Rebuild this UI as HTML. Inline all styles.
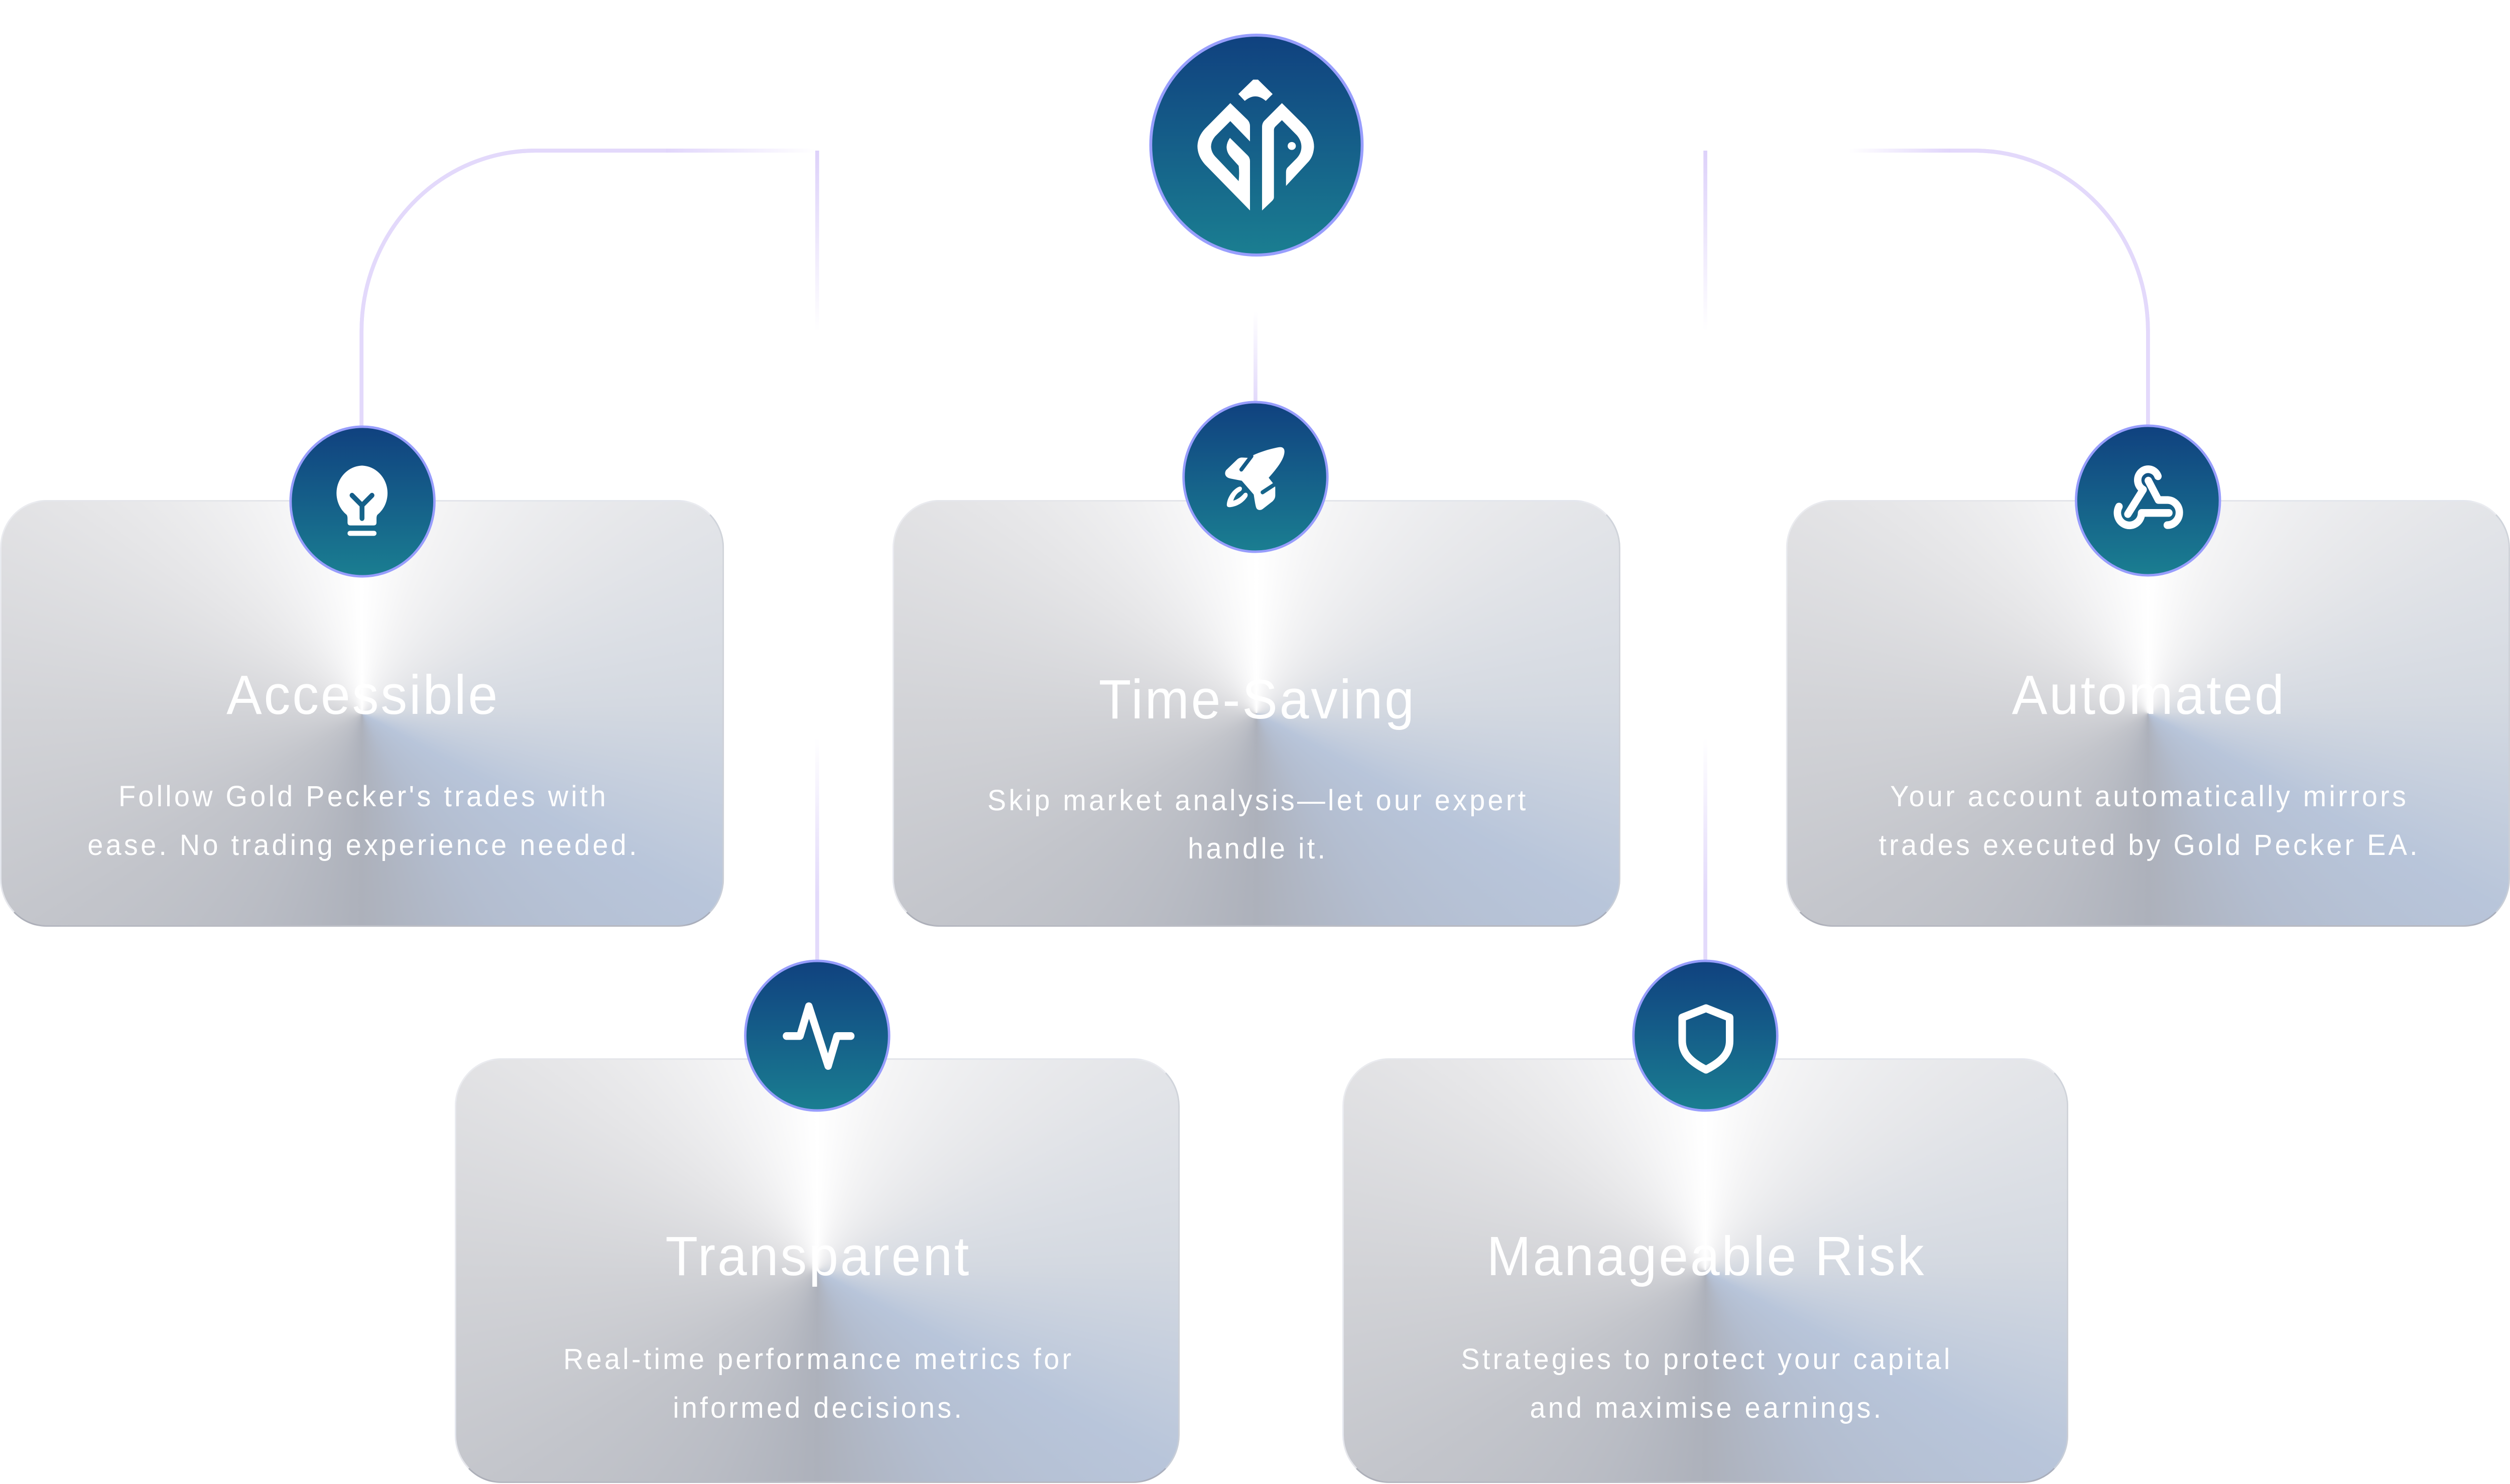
<!DOCTYPE html>
<html><head><meta charset="utf-8">
<style>
html,body{margin:0;padding:0;background:#fff;overflow:hidden;width:100%;height:100%}
svg.root{display:block;width:100vw;height:100vh;position:absolute;left:0;top:0}
.card{width:100%;height:100%;border-radius:96px;box-sizing:border-box;
border:3px solid rgba(236,237,241,0.85);border-bottom-color:rgba(165,168,178,0.75);border-right-color:rgba(205,208,216,0.8);
background:conic-gradient(from 0deg at 50% 50%,#ffffff 0deg,#f4f4f5 22deg,#e6e7ea 55deg,#d4d9e1 88deg,#b8c5da 118deg,#b3bdcf 148deg,#adb1bb 180deg,#b9bcc4 208deg,#c3c5cb 238deg,#d2d3d7 270deg,#e5e5e7 305deg,#f5f5f6 338deg,#ffffff 360deg)}
.t{font-family:"Liberation Sans",Arial,sans-serif;font-size:110px;letter-spacing:4px;fill:#fff}
.b{font-family:"Liberation Sans",Arial,sans-serif;font-size:58px;letter-spacing:5.5px;fill:#fff}
</style></head>
<body>
<svg class="root" viewBox="0 0 5200 2956" preserveAspectRatio="none" xmlns="http://www.w3.org/2000/svg">
<defs>
<linearGradient id="cg" x1="0" y1="0" x2="0" y2="1">
<stop offset="0" stop-color="#10417f"/><stop offset="0.5" stop-color="#155f89"/><stop offset="1" stop-color="#1a7e91"/>
</linearGradient>
<linearGradient id="cardfb" x1="0" y1="0" x2="1" y2="1">
<stop offset="0" stop-color="#f2f2f3"/><stop offset="0.5" stop-color="#d0d3d9"/><stop offset="1" stop-color="#b5c2d6"/>
</linearGradient>
<linearGradient id="gL" gradientUnits="userSpaceOnUse" x1="1380" y1="0" x2="1690" y2="0">
<stop offset="0" stop-color="#e1d6fb" stop-opacity="1"/><stop offset="1" stop-color="#e1d6fb" stop-opacity="0"/>
</linearGradient>
<linearGradient id="gR" gradientUnits="userSpaceOnUse" x1="3830" y1="0" x2="4040" y2="0">
<stop offset="0" stop-color="#e1d6fb" stop-opacity="0"/><stop offset="1" stop-color="#e1d6fb" stop-opacity="1"/>
</linearGradient>
<linearGradient id="gVt" gradientUnits="userSpaceOnUse" x1="0" y1="300" x2="0" y2="660">
<stop offset="0" stop-color="#ddd1fa" stop-opacity="1"/><stop offset="1" stop-color="#ddd1fa" stop-opacity="0"/>
</linearGradient>
<linearGradient id="gVb" gradientUnits="userSpaceOnUse" x1="0" y1="1470" x2="0" y2="1780">
<stop offset="0" stop-color="#e3dafb" stop-opacity="0"/><stop offset="1" stop-color="#e3dafb" stop-opacity="1"/>
</linearGradient>
<linearGradient id="gVc" gradientUnits="userSpaceOnUse" x1="0" y1="620" x2="0" y2="795">
<stop offset="0" stop-color="#e3dafb" stop-opacity="0"/><stop offset="1" stop-color="#e3dafb" stop-opacity="1"/>
</linearGradient>
<mask id="mb" maskUnits="userSpaceOnUse" x="0" y="0" width="900" height="900">
<rect x="0" y="0" width="900" height="900" fill="#fff"/>
<path d="M388,410 L450,470 L512,410 M450,470 L450,548" stroke="#000" stroke-width="30" stroke-linecap="round" stroke-linejoin="round" fill="none"/>
</mask>
<mask id="mr" maskUnits="userSpaceOnUse" x="0" y="0" width="960" height="960">
<rect x="0" y="0" width="960" height="960" fill="#fff"/>
<path d="M458,386 L395,466 M616,546 L527,602" stroke="#000" stroke-width="24" stroke-linecap="round" fill="none"/>
</mask>
</defs>

<!-- connectors -->
<path d="M749,850 V660 A360,360 0 0 1 1109,300 H1690" fill="none" stroke="url(#gL)" stroke-width="8"/>
<path d="M749,850 V660 A360,360 0 0 1 1109,300 H1380" fill="none" stroke="#e3d9fb" stroke-width="8"/>
<path d="M3830,300 H4090 A360,360 0 0 1 4450,660 V848" fill="none" stroke="url(#gR)" stroke-width="8"/>
<path d="M4040,300 H4090 A360,360 0 0 1 4450,660 V848" fill="none" stroke="#e3d9fb" stroke-width="8"/>
<line x1="1693" y1="300" x2="1693" y2="660" stroke="url(#gVt)" stroke-width="8"/>
<line x1="3533" y1="300" x2="3533" y2="660" stroke="url(#gVt)" stroke-width="8"/>
<line x1="1693" y1="1470" x2="1693" y2="1915" stroke="url(#gVb)" stroke-width="8"/>
<line x1="3533" y1="1470" x2="3533" y2="1915" stroke="url(#gVb)" stroke-width="8"/>
<line x1="2601" y1="510" x2="2601" y2="803" stroke="url(#gVc)" stroke-width="8"/>

<!-- cards (fallback rects + conic foreignObject) -->
<rect x="1.5" y="997.5" width="1497" height="847" rx="95" fill="url(#cardfb)"/>
<rect x="1850.5" y="997.5" width="1505" height="847" rx="95" fill="url(#cardfb)"/>
<rect x="3701.5" y="997.5" width="1497" height="847" rx="95" fill="url(#cardfb)"/>
<rect x="943.5" y="2109.5" width="1499" height="843" rx="95" fill="url(#cardfb)"/>
<rect x="2782.5" y="2109.5" width="1501" height="843" rx="95" fill="url(#cardfb)"/>

<foreignObject x="0" y="996" width="1500" height="850"><div xmlns="http://www.w3.org/1999/xhtml" class="card"></div></foreignObject>
<foreignObject x="1849" y="996" width="1508" height="850"><div xmlns="http://www.w3.org/1999/xhtml" class="card"></div></foreignObject>
<foreignObject x="3700" y="996" width="1500" height="850"><div xmlns="http://www.w3.org/1999/xhtml" class="card"></div></foreignObject>
<foreignObject x="942" y="2108" width="1502" height="846"><div xmlns="http://www.w3.org/1999/xhtml" class="card"></div></foreignObject>
<foreignObject x="2781" y="2108" width="1504" height="846"><div xmlns="http://www.w3.org/1999/xhtml" class="card"></div></foreignObject>

<!-- texts -->
<text class="t" x="752" y="1422" text-anchor="middle">Accessible</text>
<text class="b" x="753" y="1606" text-anchor="middle">Follow Gold Pecker's trades with</text>
<text class="b" x="753" y="1703" text-anchor="middle">ease. No trading experience needed.</text>

<text class="t" x="2605" y="1431" text-anchor="middle">Time-Saving</text>
<text class="b" x="2606" y="1614" text-anchor="middle">Skip market analysis—let our expert</text>
<text class="b" x="2606" y="1710" text-anchor="middle">handle it.</text>

<text class="t" x="4452" y="1422" text-anchor="middle">Automated</text>
<text class="b" x="4453" y="1606" text-anchor="middle">Your account automatically mirrors</text>
<text class="b" x="4453" y="1703" text-anchor="middle">trades executed by Gold Pecker EA.</text>

<text class="t" x="1695" y="2540" text-anchor="middle">Transparent</text>
<text class="b" x="1696" y="2727" text-anchor="middle">Real-time performance metrics for</text>
<text class="b" x="1696" y="2824" text-anchor="middle">informed decisions.</text>

<text class="t" x="3535" y="2540" text-anchor="middle">Manageable Risk</text>
<text class="b" x="3536" y="2727" text-anchor="middle">Strategies to protect your capital</text>
<text class="b" x="3536" y="2824" text-anchor="middle">and maximise earnings.</text>

<!-- logo -->
<circle cx="2603" cy="289" r="219" fill="url(#cg)" stroke="#989efd" stroke-width="6"/>
<g transform="translate(2300,0) scale(0.38462,0.35894)" fill="#fff">
<path d="M690,522 L770,442 L796,442 L875,522 L838,560 Q782,510 725,560 Z"/>
<path d="M647,572 L740,665 Q753,680 753,700 L753,785 L647,672 L565,757 Q543,785 543,815 Q545,845 565,868 L692,1005 Q697,960 692,920 L648,870 Q627,845 627,815 Q628,790 645,765 L740,862 Q753,875 753,895 L753,1168 L510,912 Q470,865 470,810 Q472,758 510,715 Z"/>
<path d="M925,572 L1050,700 Q1098,755 1098,815 Q1095,865 1070,895 L947,1032 L947,955 Q947,935 960,925 L1005,878 Q1030,850 1030,815 Q1030,780 1005,750 L925,667 L892,700 Q882,710 882,720 L882,1095 Q882,1105 872,1115 L818,1168 L818,705 Q818,680 835,665 Z"/>
<ellipse cx="978" cy="810" rx="22" ry="22"/>
</g>

<!-- icon circles -->
<circle cx="751" cy="999" r="149" fill="url(#cg)" stroke="#979dfc" stroke-width="5"/>
<circle cx="2601" cy="950" r="149" fill="url(#cg)" stroke="#979dfc" stroke-width="5"/>
<circle cx="4450" cy="997" r="149" fill="url(#cg)" stroke="#979dfc" stroke-width="5"/>
<circle cx="1693" cy="2063" r="149" fill="url(#cg)" stroke="#979dfc" stroke-width="5"/>
<circle cx="3533" cy="2063" r="149" fill="url(#cg)" stroke="#979dfc" stroke-width="5"/>

<!-- lightbulb -->
<g transform="translate(600,850) scale(0.33333)" fill="#fff">
<path mask="url(#mb)" d="M450,232 A165,165 0 0 1 545,527 Q540,535 540,548 L540,572 Q540,590 522,590 L378,590 Q360,590 360,572 L360,548 Q360,535 355,527 A165,165 0 0 1 450,232 Z"/>
<rect x="360" y="622" width="180" height="30" rx="15"/>
</g>

<!-- rocket -->
<g transform="translate(2440,780) scale(0.33333)" fill="#fff">
<path mask="url(#mr)" d="M625,333 C650,328 665,338 663,362 C660,400 630,445 565,515 L598,555 C606,562 606,570 606,580 L606,620 C606,635 600,645 590,655 L530,700 C515,712 495,710 488,695 C482,680 478,650 472,615 L398,533 L330,520 C300,515 285,495 300,470 L370,405 C380,396 390,394 400,394 L440,396 C480,370 560,345 625,333 Z"/>
<path d="M383,568 C350,578 310,625 305,672 C303,688 312,693 330,690 C375,684 410,660 432,628 C440,612 428,598 412,608 C395,628 372,645 345,652 C352,628 368,605 390,595 C405,585 400,565 383,568 Z"/>
</g>

<!-- webhook -->
<g transform="translate(4290,840) scale(0.33333)" fill="none" stroke="#fff" stroke-width="46" stroke-linecap="round" stroke-linejoin="round">
<path d="M542,326 A65,65 0 1 0 450,406 L355,552"/>
<path d="M482,352 L545,468 L600,468 A75,75 0 0 1 600,618"/>
<path d="M610,545 L440,545 A75,75 0 1 1 300,507"/>
</g>

<!-- pulse -->
<g transform="translate(1530,1900) scale(0.33333)" fill="none" stroke="#fff" stroke-width="46" stroke-linecap="round" stroke-linejoin="round">
<polyline points="298,491 382,491 437,313 557,670 612,491 698,491"/>
</g>

<!-- shield -->
<g transform="translate(3372,1900) scale(0.33333)" fill="none" stroke="#fff" stroke-width="47" stroke-linecap="round" stroke-linejoin="round">
<path d="M487,325 L339,381 L339,520 C339,600 400,650 487,692 C574,650 634,600 634,520 L634,381 Z"/>
</g>
</svg>
</body></html>
